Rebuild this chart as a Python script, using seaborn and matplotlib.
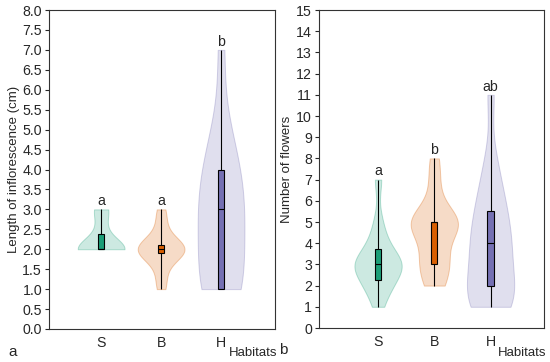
import numpy as np
import pandas as pd
import matplotlib
matplotlib.use("Agg")
import matplotlib.pyplot as plt
import seaborn as sns

# ── Data ──────────────────────────────────────────────────────────────────────
HABITATS = ["S", "B", "H"]
COLORS = ["#1b9e77", "#d95f02", "#7570b3"]

# (a) length of inflorescence, cm
LEN_S = [2.0, 2.0, 2.0, 2.0, 2.0, 2.0, 2.0, 2.5, 3.0, 3.0]
LEN_B = [1.0, 1.2, 1.5, 1.8, 1.9, 2.0, 2.0, 2.0, 2.0, 2.0, 2.0, 2.0, 2.1,
         2.2, 2.5, 2.8, 3.0]
LEN_H = [1.0, 1.0, 1.0, 1.0, 1.0, 2.0, 2.0, 2.5, 3.0, 3.0, 3.0, 3.5, 4.0,
         4.0, 4.5, 5.0, 7.0]
LEN_LETTERS = ["a", "a", "b"]

# (b) number of flowers
FLW_S = [1, 2, 2, 2, 3, 3, 3, 3, 3, 3, 4, 4, 5, 7]
FLW_B = [2, 2, 3, 3, 3, 4, 4, 5, 5, 5, 5, 5, 5, 6, 7, 8]
FLW_H = [1, 1, 1, 1, 2, 2, 2, 3, 3, 4, 4, 4, 5, 5, 6, 6, 7, 8, 11]
FLW_LETTERS = ["a", "b", "ab"]

# ── Style ─────────────────────────────────────────────────────────────────────
sns.set_theme(style="ticks")
plt.rcParams["font.family"] = ["Liberation Sans", "DejaVu Sans"]
FS = 10.2


def long_df(s, b, h):
    return pd.DataFrame({
        "Habitat": ["S"] * len(s) + ["B"] * len(b) + ["H"] * len(h),
        "value": list(s) + list(b) + list(h),
    })


def draw_panel(ax, df, letters, vwidth, bw, ymax, ystep, fmt, ylabel, xlim):
    sns.violinplot(
        data=df, x="Habitat", y="value", hue="Habitat", order=HABITATS,
        hue_order=HABITATS, palette=COLORS, inner=None, cut=0, bw_adjust=bw,
        density_norm="width", width=vwidth, linewidth=0.7, legend=False, ax=ax,
    )
    # lighten violins
    for coll, c in zip(ax.collections, COLORS):
        coll.set_facecolor(matplotlib.colors.to_rgba(c, 0.22))
        coll.set_edgecolor(matplotlib.colors.to_rgba(c, 0.30))

    sns.boxplot(
        data=df, x="Habitat", y="value", hue="Habitat", order=HABITATS,
        hue_order=HABITATS, palette=COLORS, saturation=1, width=0.11,
        whis=(0, 100), showfliers=False, linecolor="black", linewidth=0.8,
        capprops={"linewidth": 0}, legend=False, ax=ax,
    )

    maxes = df.groupby("Habitat")["value"].max()
    for i, h in enumerate(HABITATS):
        ax.text(i, maxes[h] + ymax * 0.004, letters[i], ha="center",
                va="bottom", fontsize=FS)

    ax.set_ylim(0, ymax)
    ax.set_yticks(np.arange(0, ymax + ystep / 2, ystep))
    ax.set_yticklabels([fmt.format(v) for v in ax.get_yticks()])
    ax.set_xlim(*xlim)
    ax.set_xlabel("")
    ax.set_ylabel(ylabel, fontsize=9.5, labelpad=2)
    ax.tick_params(axis="y", length=3, width=0.8, pad=2, labelsize=FS)
    ax.tick_params(axis="x", length=0, pad=5, labelsize=FS)
    for sp in ax.spines.values():
        sp.set_visible(True)
        sp.set_linewidth(0.8)
        sp.set_color("#333333")


fig = plt.figure(figsize=(5.5, 3.62), dpi=100)
ax1 = fig.add_axes([49 / 550, 1 - 329 / 362, 226 / 550, 319 / 362])
ax2 = fig.add_axes([319 / 550, 1 - 328 / 362, 225 / 550, 318 / 362])

draw_panel(ax1, long_df(LEN_S, LEN_B, LEN_H), LEN_LETTERS, 0.78, 1.0, 8, 0.5,
           "{:.1f}", "Length of inflorescence (cm)", (-0.87, 2.9))
draw_panel(ax2, long_df(FLW_S, FLW_B, FLW_H), FLW_LETTERS, 0.84, 0.75, 15, 1,
           "{:.0f}", "Number of flowers", (-1.05, 2.95))

fig.text(13 / 550, 1 - 352 / 362, "a", ha="center", va="center", fontsize=11)
fig.text(277 / 550, 1 - 353 / 362, "Habitats", ha="right", va="center", fontsize=9.5)
fig.text(283 / 550, 1 - 350 / 362, "b", ha="center", va="center", fontsize=11)
fig.text(546 / 550, 1 - 353 / 362, "Habitats", ha="right", va="center", fontsize=9.5)

fig.savefig("out.png", dpi=100)
